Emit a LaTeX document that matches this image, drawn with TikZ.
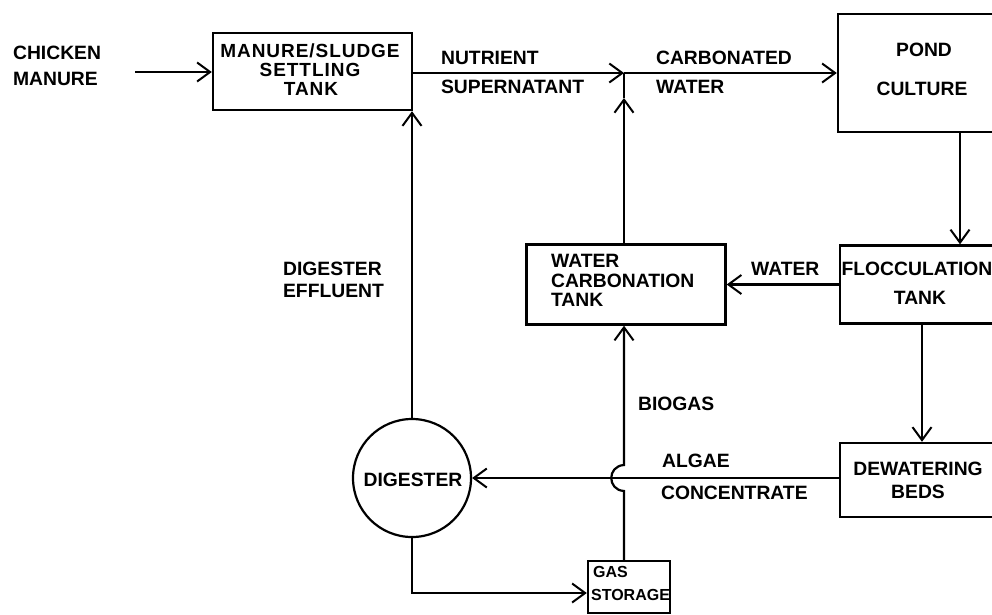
\documentclass[tikz,border=0pt]{standalone}
\usepackage{fontspec}
\setmainfont{Liberation Sans}
\usetikzlibrary{arrows.meta}
\begin{document}
\begin{tikzpicture}[x=1pt,y=-1pt,
  line width=2.2pt,
  tip/.style={-{Straight Barb[length=13pt,width=19pt,line width=2pt]}},
  box/.style={draw, line width=2.4pt, rectangle, inner sep=0pt},
  lbl/.style={inner sep=0pt, text height=13.8pt, text depth=0pt, font=\fontsize{19.3}{19.3}\selectfont\bfseries},
  lw/.style={lbl, anchor=west},
  lc/.style={lbl, anchor=center},
  wide/.style={font=\fontsize{19}{19}\selectfont\bfseries\addfontfeature{LetterSpace=5}},
  small/.style={text height=11.5pt, font=\fontsize{16}{16}\selectfont\bfseries}]
\clip (0,0) rectangle (992,614);
% boxes
\node[box, minimum width=199pt, minimum height=77pt] (man) at (312.5,71.5) {};
\node[box, minimum width=170pt, minimum height=118pt] (pond) at (923,73) {};
\node[box, minimum width=199pt, minimum height=80pt] (wct) at (626,284.5) {};
\node[box, minimum width=160pt, minimum height=78pt] (floc) at (920,284.5) {};
\node[box, minimum width=160pt, minimum height=74pt] (dew) at (920,480) {};
\node[draw, circle, line width=2.2pt, minimum size=118pt, inner sep=0pt] (dig) at (412,478) {};
\node[box, minimum width=82pt, minimum height=52pt] (gas) at (629,587) {};
% coordinates
\coordinate (cm) at (135,72);
\coordinate (jx) at (624,73);
\coordinate (ja) at (624,98);
\coordinate (px) at (960,0);
\coordinate (fx) at (922,0);
\coordinate (hb) at (624,491);
\coordinate (ht) at (624,465);
\coordinate (gy) at (0,593);
% connectors
\draw[tip] (cm) -- (man.west |- cm);
\draw[tip] (man.east |- jx) -- (jx);
\draw[tip] (jx) -- (pond.west |- jx);
\draw[tip] (wct.north -| jx) -- (ja);
\draw (ja) -- (jx);
\draw[tip] (floc.west) -- (wct.east);
\draw[tip] (pond.south -| px) -- (floc.north -| px);
\draw[tip] (floc.south -| fx) -- (dew.north -| fx);
\draw[tip] (dew.west |- dig.east) -- (dig.east);
\draw[tip] (gas.north -| jx) -- (hb) .. controls (607,490) and (607,466) .. (ht) -- (wct.south -| jx);
\draw[tip] (dig.north) -- (man.south -| dig.north);
\draw[tip] (dig.south) |- (gas.west |- gy);
% labels
\node[lw] (t1) at (12,53) {CHICKEN};
\node[lw] (t2) at (12,78.5) {MANURE};
\node[lc, wide] (m1) at (310,50.5) {MANURE/SLUDGE};
\node[lc, wide] (m2) at (310,69.5) {SETTLING};
\node[lc, wide] (m3) at (311,88.5) {TANK};
\node[lw] (n1) at (440,58) {NUTRIENT};
\node[lw] (n2) at (440,87) {SUPERNATANT};
\node[lw] (c1) at (655,57.5) {CARBONATED};
\node[lw] (c2) at (655,87) {WATER};
\node[lc] (p1) at (924,50) {POND};
\node[lc] (p2) at (922,88.5) {CULTURE};
\node[lw] (d1) at (282,269) {DIGESTER};
\node[lw] (d2) at (282,291) {EFFLUENT};
\node[lw] (w1) at (550,261) {WATER};
\node[lw] (w2) at (550,280.5) {CARBONATION};
\node[lw] (w3) at (550,300) {TANK};
\node[lw] (wl) at (750,269) {WATER};
\node[lc] (f1) at (917,269) {FLOCCULATION};
\node[lc] (f2) at (920,298) {TANK};
\node[lw] (b1) at (637,404) {BIOGAS};
\node[lw] (a1) at (661,461) {ALGAE};
\node[lw] (a2) at (660,493) {CONCENTRATE};
\node[lc] (e1) at (918,469) {DEWATERING};
\node[lc] (e2) at (918,492) {BEDS};
\node[lc] (g0) at (413,480) {DIGESTER};
\node[lw, small] (g1) at (592,572) {GAS};
\node[lw, small] (g2) at (590,595) {STORAGE};
\end{tikzpicture}
\end{document}
